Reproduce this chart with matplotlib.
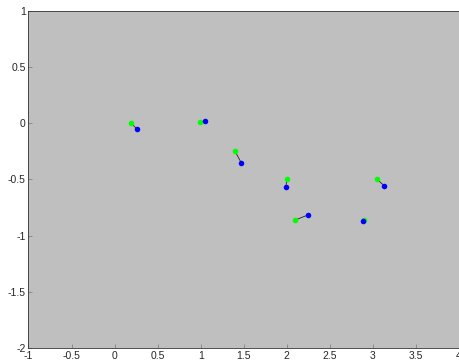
import matplotlib
matplotlib.use("Agg")
import matplotlib.pyplot as plt
import numpy as np

# green = start points, blue = end points
green_x = [0.19, 0.99, 1.40, 2.00, 3.05, 2.10, 2.90]
green_y = [0.00, 0.01, -0.25, -0.50, -0.50, -0.86, -0.86]
blue_x = [0.26, 1.05, 1.47, 1.99, 3.13, 2.25, 2.88]
blue_y = [-0.05, 0.02, -0.35, -0.565, -0.555, -0.815, -0.87]

xticks = [-1, -0.5, 0, 0.5, 1, 1.5, 2, 2.5, 3, 3.5, 4]
yticks = [-2, -1.5, -1, -0.5, 0, 0.5, 1]

plt.rcParams['font.family'] = ['Liberation Sans', 'DejaVu Sans']
fig = plt.figure(figsize=(4.59, 3.64), dpi=100)
ax = fig.add_axes([0.062, 0.044, 0.938, 0.926])
ax.set_facecolor('#bfbfbf')

for gx, gy, bx, by in zip(green_x, green_y, blue_x, blue_y):
    ax.plot([gx, bx], [gy, by], color='#222222', lw=0.6, zorder=2)
ax.plot(green_x, green_y, 'o', color='#00ff00', ms=4, mec='none', zorder=3)
ax.plot(blue_x, blue_y, 'o', color='#0000ff', ms=4, mec='none', zorder=4)

ax.set_xlim(-1, 4)
ax.set_ylim(-2, 1)
ax.set_xticks(xticks)
ax.set_yticks(yticks)
ax.set_xticklabels([f'{t:g}' for t in xticks])
ax.set_yticklabels([f'{t:g}' for t in yticks])
ax.tick_params(direction='in', length=3, width=0.5, labelsize=7.5, pad=2,
               color='#777777', labelcolor='#262626')
for s in ax.spines.values():
    s.set_linewidth(0.6)
    s.set_color('#333333')

fig.savefig('out.png', dpi=100)
